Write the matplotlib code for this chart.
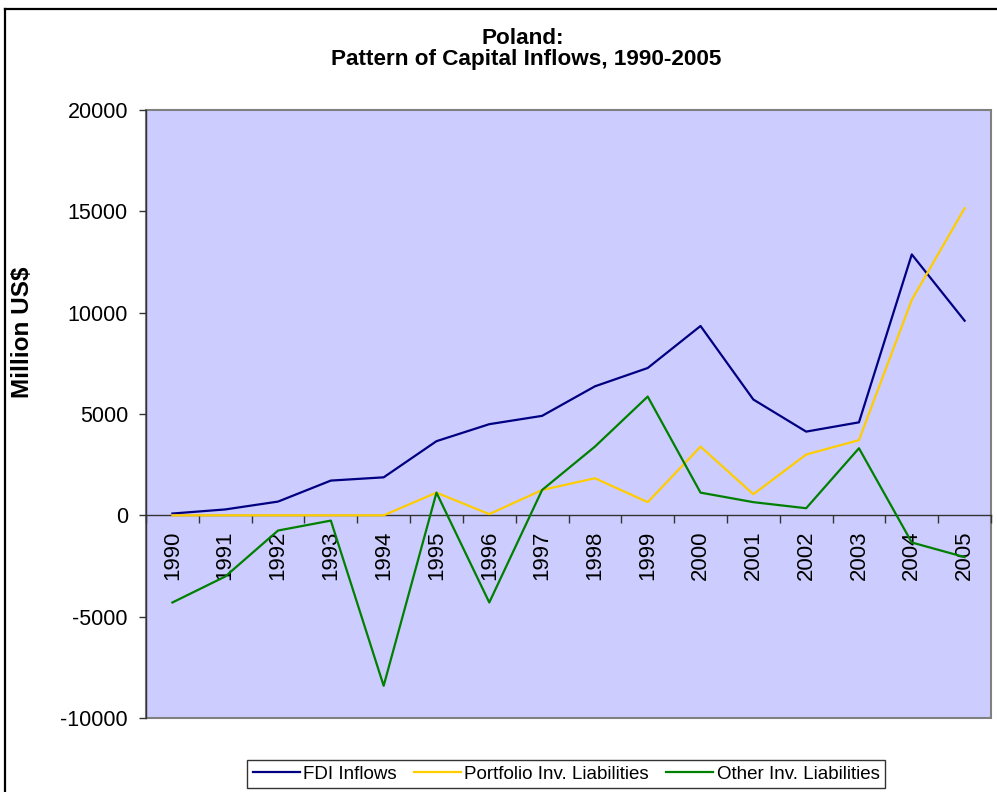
import matplotlib
matplotlib.use("Agg")
import matplotlib.pyplot as plt
from matplotlib.lines import Line2D
from matplotlib.patches import Rectangle

plt.rcParams['font.family'] = ['Liberation Sans', 'DejaVu Sans']

years = ['1990', '1991', '1992', '1993', '1994', '1995', '1996', '1997',
         '1998', '1999', '2000', '2001', '2002', '2003', '2004', '2005']
fdi = [89, 291, 678, 1715, 1875, 3659, 4498, 4908,
       6365, 7270, 9343, 5714, 4131, 4589, 12874, 9604]
portfolio = [0, 0, 0, 0, 0, 1120, 60, 1250,
             1830, 650, 3390, 1040, 3000, 3710, 10630, 15150]
other = [-4300, -3020, -750, -260, -8410, 1120, -4300, 1250,
         3390, 5860, 1120, 650, 350, 3310, -1340, -2060]
series_names = ['FDI Inflows', 'Portfolio Inv. Liabilities', 'Other Inv. Liabilities']
colors = ['#000080', '#FFCC00', '#008000']
yticks = [-10000, -5000, 0, 5000, 10000, 15000, 20000]

W, H = 997, 792
fig = plt.figure(figsize=(W / 100, H / 100), dpi=100)
fig.patch.set_facecolor('white')

left, right, top, bottom = 146, 991, 110, 718
ax = fig.add_axes([left / W, 1 - bottom / H, (right - left) / W, (bottom - top) / H])
ax.set_facecolor('#CCCCFF')

x = list(range(len(years)))
for vals, c, name in zip([fdi, portfolio, other], colors, series_names):
    ax.plot(x, vals, color=c, lw=1.6, label=name, zorder=3)

ax.set_xlim(-0.5, len(years) - 0.5)
ax.set_ylim(-10000, 20000)
ax.set_yticks(yticks)
ax.set_yticklabels([str(v) for v in yticks], fontsize=15.5)
ax.tick_params(axis='y', direction='out', length=5, width=1, color='#333333', pad=8)

# x axis at zero
ax.spines['bottom'].set_position(('data', 0))
ax.spines['bottom'].set_color('#333333')
ax.spines['bottom'].set_linewidth(1.0)
ax.spines['bottom'].set_zorder(2)
ax.set_xticks([i - 0.5 for i in range(len(years) + 1)])
ax.set_xticklabels([])
ax.set_xticks(x, minor=True)
ax.set_xticklabels(years, minor=True, rotation=90, fontsize=16)
ax.tick_params(axis='x', which='major', direction='out', length=6, width=1, color='#333333')
ax.tick_params(axis='x', which='minor', length=0, pad=11)

for s in ['top', 'right']:
    ax.spines[s].set_visible(False)
ax.spines['left'].set_color('#333333')
ax.spines['left'].set_linewidth(1.0)

# plot area border
ax.add_patch(Rectangle((0, 0), 1, 1, transform=ax.transAxes, fill=False,
                       edgecolor='#808080', lw=1.5, clip_on=False, zorder=1))

ax.set_ylabel('Million US$', fontsize=17.5, fontweight='bold')
ax.yaxis.set_label_coords(-0.133, (718 - 332) / 608)

fig.text(523 / W, 1 - 38 / H, 'Poland:', ha='center', va='center',
         fontsize=16.2, fontweight='bold')
fig.text(526 / W, 1 - 60 / H, 'Pattern of Capital Inflows, 1990-2005', ha='center',
         va='center', fontsize=16.2, fontweight='bold')

leg = fig.legend(loc='center', bbox_to_anchor=(566 / W, 1 - 774 / H), ncol=3,
                 fontsize=13.5, frameon=True, fancybox=False, handlelength=2.5,
                 handletextpad=0.2, columnspacing=0.9, borderpad=0.3)
leg.get_frame().set_edgecolor('black')
leg.get_frame().set_linewidth(1.0)

# outer chart border
fig.add_artist(Line2D([5 / W, 1], [1 - 8.5 / H, 1 - 8.5 / H], color='black', lw=1.6,
                      transform=fig.transFigure))
fig.add_artist(Line2D([5 / W, 5 / W], [0, 1 - 8.5 / H], color='black', lw=1.6,
                      transform=fig.transFigure))

fig.savefig('out.png', dpi=100)
